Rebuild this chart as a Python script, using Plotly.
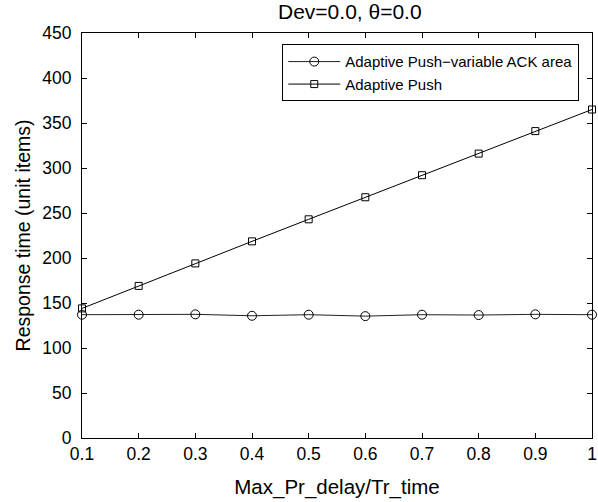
import plotly.graph_objects as go

x_vals = [0.1, 0.2, 0.3, 0.4, 0.5, 0.6, 0.7, 0.8, 0.9, 1.0]
ack_area = [137, 137, 137.4, 135.8, 137, 135.4, 137, 136.6, 137.4, 137]
adaptive_push = [144, 169, 194, 218.5, 243, 267.5, 292, 316, 341, 365]
x_ticks = [0.1, 0.2, 0.3, 0.4, 0.5, 0.6, 0.7, 0.8, 0.9, 1.0]
x_tick_text = ["0.1", "0.2", "0.3", "0.4", "0.5", "0.6", "0.7", "0.8", "0.9", "1"]
y_ticks = [0, 50, 100, 150, 200, 250, 300, 350, 400, 450]

FONT = "Liberation Sans, Arial, Helvetica, sans-serif"

fig = go.Figure()
fig.add_trace(go.Scatter(
    x=x_vals, y=ack_area, mode="lines+markers",
    name="Adaptive Push\u2212variable ACK area",
    line=dict(color="#222222", width=1),
    marker=dict(symbol="circle-open", size=9, color="black", line=dict(width=1)),
    cliponaxis=False,
))
fig.add_trace(go.Scatter(
    x=x_vals, y=adaptive_push, mode="lines+markers",
    name="Adaptive Push",
    line=dict(color="black", width=1),
    marker=dict(symbol="square-open", size=7, color="black", line=dict(width=1)),
    cliponaxis=False,
))

axis_common = dict(
    showline=True, linecolor="black", linewidth=1, mirror="ticks",
    ticks="inside", ticklen=5, tickcolor="black", showgrid=False, zeroline=False,
    tickfont=dict(family=FONT, size=17.5, color="black"),
    ticklabeloverflow="allow",
)

fig.update_layout(
    width=598, height=502,
    margin=dict(l=82, r=1, t=33, b=64),
    paper_bgcolor="white", plot_bgcolor="white",
    font=dict(family=FONT, color="black"),
    title=dict(text="Dev=0.0, \u03b8=0.0", x=0.585, xanchor="center", y=0.976, yanchor="middle",
               font=dict(family=FONT, size=21, color="black")),
    xaxis=dict(range=[0.1, 1.0], tickvals=x_ticks, ticktext=x_tick_text,
               title=dict(text="Max_Pr_delay/Tr_time", font=dict(family=FONT, size=20.5), standoff=16),
               **axis_common),
    yaxis=dict(range=[0, 450], tickvals=y_ticks, ticklabelstandoff=6,
               title=dict(text="Response time (unit items)", font=dict(family=FONT, size=19.5), standoff=6),
               **axis_common),
    legend=dict(x=0.975, y=0.972, xanchor="right", yanchor="top",
                bgcolor="white", bordercolor="black", borderwidth=1,
                font=dict(family=FONT, size=15, color="black"),
                tracegroupgap=0, itemwidth=52),
    showlegend=True,
)

fig.write_html("out.html")
